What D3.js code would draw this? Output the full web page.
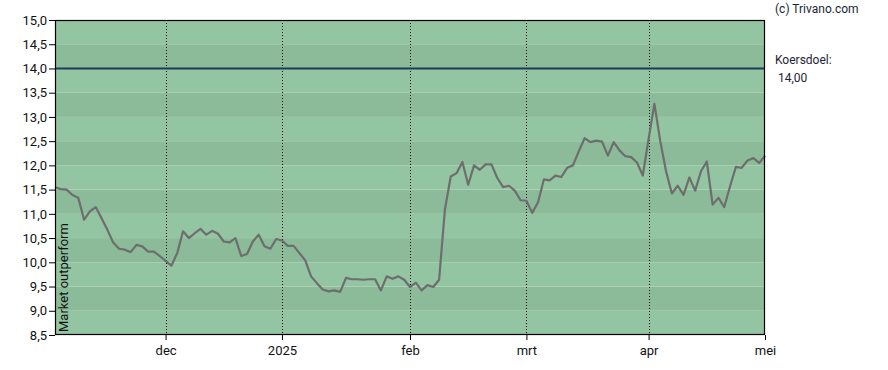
<!DOCTYPE html>
<html><head><meta charset="utf-8">
<script src="https://cdn.jsdelivr.net/npm/d3@7"></script>
<style>
body{margin:0;background:#fff;}
text{font-family:Roboto,"Liberation Sans",sans-serif;}
</style>
</head><body>
<svg id="c" width="888" height="370"></svg>
<script>
// Daily (trading-day) values, index 0 .. 122
const values = [
 11.55,11.51,11.50,11.39,11.33,10.88,11.05,11.14,10.91,10.67,
 10.41,10.28,10.26,10.21,10.36,10.33,10.22,10.22,10.13,10.03,
 9.93,10.19,10.64,10.50,10.60,10.69,10.57,10.65,10.59,10.43,
 10.41,10.50,10.13,10.17,10.43,10.57,10.33,10.28,10.48,10.45,
 10.34,10.34,10.19,10.04,9.71,9.57,9.44,9.40,9.42,9.39,
 9.68,9.65,9.65,9.64,9.65,9.65,9.42,9.71,9.66,9.71,
 9.64,9.49,9.58,9.42,9.53,9.49,9.64,11.09,11.77,11.84,
 12.07,11.60,12.00,11.91,12.02,12.02,11.74,11.55,11.58,11.48,
 11.28,11.27,11.02,11.24,11.71,11.69,11.79,11.76,11.95,12.00,
 12.29,12.56,12.48,12.51,12.49,12.20,12.48,12.31,12.19,12.17,
 12.06,11.79,12.55,13.27,12.50,11.88,11.42,11.58,11.39,11.75,
 11.48,11.88,12.08,11.19,11.33,11.14,11.57,11.97,11.95,12.10,
 12.15,12.05,12.20
];
const monthTickIndex = [19, 39, 61, 81, 102, 122];
const monthTickLabels = ["dec", "2025", "feb", "mrt", "apr", "mei"];
const yTickValues = [8.5,9.0,9.5,10.0,10.5,11.0,11.5,12.0,12.5,13.0,13.5,14.0,14.5,15.0];
const targetValue = 14.0;
const targetLabel = ["Koersdoel:", "14,00"];
const ratingLabel = "Market outperform";
const credit = "(c) Trivano.com";

const svg = d3.select("#c");
const L = 55, R = 765, T = 20, B = 335;
const x = d3.scaleLinear().domain([0, 122]).range([L, R]);
const y = d3.scaleLinear().domain([8.5, 15]).range([B, T]);
const fmt = v => d3.format(".1f")(v).replace(".", ",");

// background bands
const bands = d3.range(8.5, 15, 0.5);
svg.append("g").selectAll("rect").data(bands).join("rect")
  .attr("x", L).attr("width", R - L)
  .attr("y", d => y(d + 0.5)).attr("height", d => y(d) - y(d + 0.5))
  .attr("fill", d => (Math.round((15 - (d + 0.5)) / 0.5) % 2 === 0) ? "#93c5a2" : "#8bbb99");

// dotted month lines
svg.append("g").selectAll("line").data(monthTickIndex.slice(0, -1)).join("line")
  .attr("x1", d => Math.round(x(d)) + 0.5).attr("x2", d => Math.round(x(d)) + 0.5)
  .attr("y1", T).attr("y2", B)
  .attr("stroke", "#000").attr("stroke-width", 1).attr("stroke-dasharray", "1,2");

// target line
svg.append("line").attr("x1", L).attr("x2", R)
  .attr("y1", y(targetValue)).attr("y2", y(targetValue))
  .attr("stroke", "#1d3a5a").attr("stroke-width", 2);

// price line
svg.append("path").datum(values)
  .attr("d", d3.line().x((d, i) => x(i)).y(d => y(d)))
  .attr("fill", "none").attr("stroke", "#6e6e6e").attr("stroke-width", 2.2)
  .attr("stroke-linejoin", "round");

// frame
svg.append("rect").attr("x", L + 0.5).attr("y", T + 0.5)
  .attr("width", R - L - 1).attr("height", B - T - 1)
  .attr("fill", "none").attr("stroke", "#000").attr("stroke-width", 1.2);

// y axis
const ya = svg.append("g").attr("transform", `translate(${L},0)`)
  .call(d3.axisLeft(y).tickValues(yTickValues).tickFormat(fmt).tickSize(6).tickPadding(2));
ya.select(".domain").remove();
ya.selectAll("text").attr("font-size", 13).attr("fill", "#111");
ya.selectAll("line").attr("stroke", "#000");

// x axis
const xa = svg.append("g").attr("transform", `translate(0,${B})`)
  .call(d3.axisBottom(x).tickValues(monthTickIndex)
    .tickFormat((d, i) => monthTickLabels[i]).tickSize(5).tickPadding(6));
xa.select(".domain").remove();
xa.selectAll("text").attr("font-size", 13).attr("fill", "#111");
xa.selectAll("line").attr("stroke", "#000");

// rating label (vertical)
svg.append("text").attr("transform", `translate(68,${B - 3}) rotate(-90)`)
  .attr("font-size", 13).attr("fill", "#111").text(ratingLabel);

// right-side texts
svg.append("text").attr("x", 775).attr("y", 13).attr("font-size", 12).attr("fill", "#1b2535").text(credit);
svg.append("text").attr("x", 775).attr("y", 64).attr("font-size", 12).attr("fill", "#1b2535").text(targetLabel[0]);
svg.append("text").attr("x", 778).attr("y", 82).attr("font-size", 12).attr("fill", "#1b2535").text(targetLabel[1]);
</script>
</body></html>
